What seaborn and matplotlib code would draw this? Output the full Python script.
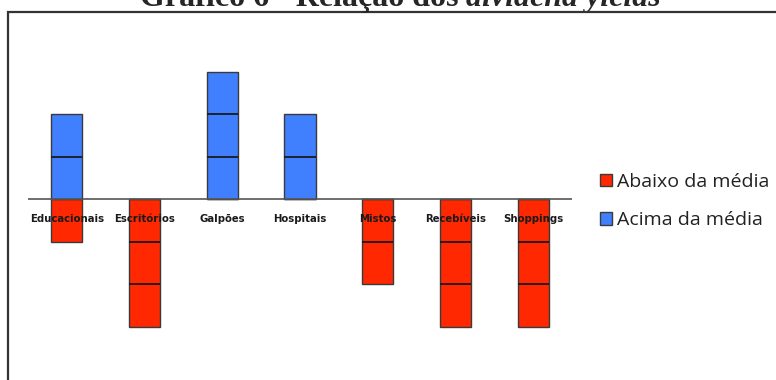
import numpy as np
import pandas as pd
import seaborn as sns
import matplotlib
matplotlib.use("Agg")
import matplotlib.pyplot as plt
from matplotlib.patches import Rectangle, Patch

# Number of funds per segment above / below the average dividend yield
categorias = ["Educacionais", "Escritórios", "Galpões", "Hospitais",
              "Mistos", "Recebíveis", "Shoppings"]
acima = [2, 0, 3, 2, 0, 0, 0]
abaixo = [1, 3, 0, 0, 2, 3, 3]

titulo_a = "Gráfico 6 - Relação dos "
titulo_b = "dividend yields"
rotulo_abaixo = "Abaixo da média"
rotulo_acima = "Acima da média"

cor_abaixo = "#FF2800"
cor_acima = "#4080FF"

sns.set_theme(style="white")
plt.rcParams["font.family"] = ["DejaVu Sans"]

W, H = 776, 380
fig = plt.figure(figsize=(W / 100, H / 100), dpi=100)

# axes: baseline at y=199 px, one unit = 42.5 px
unit = 42.5
base = 199
ylo, yhi = -3.5, 3.5
ax_top = base - yhi * unit
ax_bot = base - ylo * unit
left_px, right_px = 28, 572
ax = fig.add_axes([left_px / W, 1 - ax_bot / H, (right_px - left_px) / W, (ax_bot - ax_top) / H])

df = pd.DataFrame({
    "segmento": categorias,
    "acima": acima,
    "abaixo": [-v for v in abaixo],
})

bar_kws = dict(width=0.4, edgecolor="#3a3a3a", linewidth=1.0, saturation=1)
sns.barplot(data=df, x="segmento", y="abaixo", order=categorias,
            color=cor_abaixo, ax=ax, zorder=2, **bar_kws)
sns.barplot(data=df, x="segmento", y="acima", order=categorias,
            color=cor_acima, ax=ax, zorder=2, **bar_kws)

# divide each bar into unit blocks
for p in ax.patches:
    h = p.get_height()
    x0, w = p.get_x(), p.get_width()
    n = int(round(abs(h)))
    for k in range(1, n):
        yk = k if h > 0 else -k
        ax.hlines(yk, x0, x0 + w, colors="#1a1a1a", linewidth=1.3, zorder=3)

ax.axhline(0, color="#555555", linewidth=1.2, zorder=4)
ax.set_xlim(-0.5, len(categorias) - 0.5)
ax.set_ylim(ylo, yhi)
ax.set_xticks([])
ax.set_yticks([])
ax.set_xlabel("")
ax.set_ylabel("")
for s in ax.spines.values():
    s.set_visible(False)

lab_y = -(219 - base) / unit
for i, c in enumerate(categorias):
    ax.text(i, lab_y, c, ha="center", va="center", fontsize=7.3,
            fontweight="bold", color="#1a1a1a", zorder=5)

handles = [Patch(facecolor=cor_abaixo, edgecolor="#3a3a3a", linewidth=1.0),
           Patch(facecolor=cor_acima, edgecolor="#3a3a3a", linewidth=1.0)]
fig.legend(handles, [rotulo_abaixo, rotulo_acima],
           loc="center left", bbox_to_anchor=(582 / W, 1 - 201 / H),
           frameon=False, handlelength=0.62, handleheight=0.62,
           handletextpad=0.28, labelspacing=1.05,
           prop={"family": "Open Sans", "size": 14}, labelcolor="#222222")

# outer frame of the chart
fig.patches.append(Rectangle((8 / W, -0.1), 1.2, 1 - 12 / H + 0.1,
                             transform=fig.transFigure, fill=False,
                             edgecolor="#333333", linewidth=1.6))

t1 = fig.text(140 / W, 1 - 6 / H, titulo_a, ha="left", va="baseline",
              fontsize=23, fontweight="bold", family="Liberation Serif")
ax.annotate(titulo_b, xy=(1, 0), xycoords=t1, ha="left", va="bottom",
            fontsize=23, fontweight="bold", fontstyle="italic",
            family="Liberation Serif", annotation_clip=False)

fig.savefig("out.png", dpi=100)
